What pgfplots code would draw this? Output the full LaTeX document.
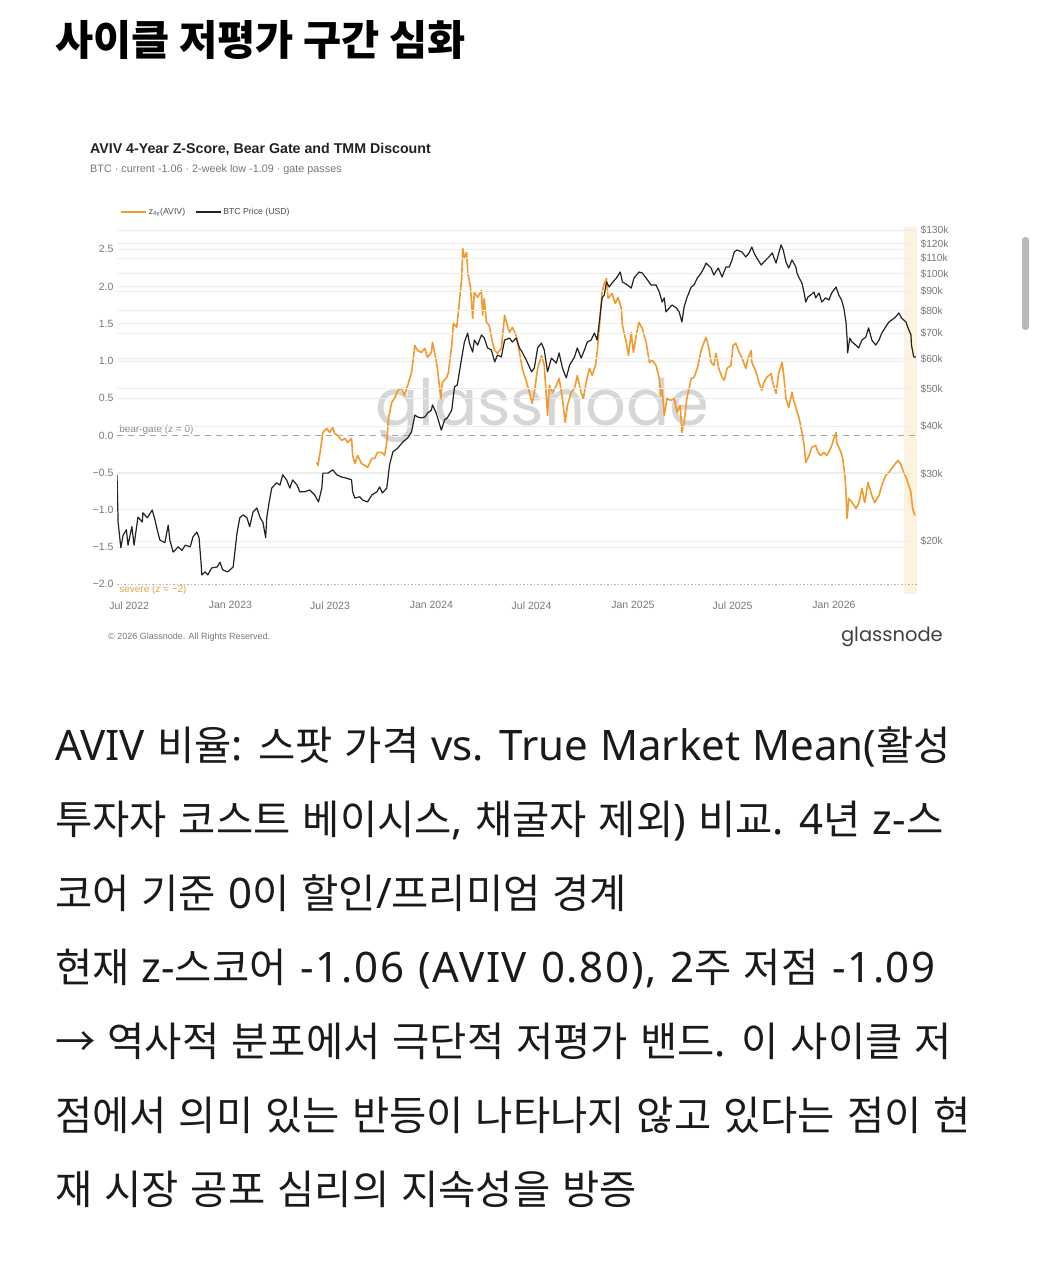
\documentclass[border=0pt]{standalone}
\usepackage{fontspec}
\usepackage{pgfplots}
\pgfplotsset{compat=1.18}
\setmainfont{Liberation Sans}
\newfontfamily\krf{Noto Sans CJK KR}
\newfontfamily\krtitle{Noto Sans CJK KR}
\newfontfamily\laf{Noto Sans}[WordSpace=1.1]
\newfontfamily\ldf{Noto Sans}[WordSpace=1.1,LetterSpace=4]
\newfontfamily\popf{Poppins}
\definecolor{zorange}{HTML}{F29A2E}
\definecolor{btcc}{HTML}{222222}
\definecolor{gridc}{HTML}{EDEDED}
\definecolor{tickc}{HTML}{777777}
\definecolor{bandc}{HTML}{FDF1E0}
\definecolor{sevc}{HTML}{E0A050}
\definecolor{bodyc}{HTML}{1A1A1A}
\newcommand\KO[1]{{\krf\fontsize{40.5}{44}\selectfont #1}}
\newcommand\LA[1]{{\laf\fontsize{42}{44}\selectfont #1}}
\newcommand\LD[1]{{\ldf\fontsize{42}{44}\selectfont #1}}

\begin{document}
\begin{tikzpicture}
\begin{scope}[x=1pt,y=-1pt]
\path (0,0) rectangle (1038,1280);
\node[anchor=base west, inner sep=0pt, text=black] at (55,55) {\krtitle\bfseries\fontsize{41.5}{44}\selectfont 사이클 저평가 구간 심화};
\fill[gray!55, rounded corners=3pt] (1022,237) rectangle (1029,330);
% chart header
\node[anchor=base west, inner sep=0pt, text=btcc] at (90,153) {\bfseries\fontsize{14.2}{16}\selectfont AVIV 4-Year Z-Score, Bear Gate and TMM Discount};
\node[anchor=base west, inner sep=0pt, text=tickc] at (90,172) {\fontsize{10.8}{12}\selectfont BTC · current -1.06 · 2-week low -1.09 · gate passes};
\node[anchor=base west, inner sep=0pt, text=tickc] at (108,639) {\fontsize{9}{10}\selectfont © 2026 Glassnode. All Rights Reserved.};
\node[anchor=base east, inner sep=0pt, text=black!75] at (943,641) {\popf\fontsize{19.5}{21}\selectfont glassnode};
\node[anchor=base, inner sep=0pt, text=black!16] at (542,425) {\popf\fontsize{64}{66}\selectfont glassnode};
% body text
\begin{scope}[every node/.style={anchor=base west, inner sep=0pt, text=bodyc}]
\node at (55,760) {\LA{AVIV }\KO{비율}\LA{: }\KO{스팟}\LA{ }\KO{가격}\LA{ vs. True Market Mean(}\KO{활성}};
\node at (55,834) {\KO{투자자}\LA{ }\KO{코스트}\LA{ }\KO{베이시스}\LA{, }\KO{채굴자}\LA{ }\KO{제외}\LA{) }\KO{비교}\LA{. 4}\KO{년}\LA{ z-}\KO{스}};
\node at (55,908) {\KO{코어}\LA{ }\KO{기준}\LA{ 0}\KO{이}\LA{ }\KO{할인}\LA{/}\KO{프리미엄}\LA{ }\KO{경계}};
\node at (55,982) {\KO{현재}\LA{ z-}\KO{스코어}\LD{ -1.06 (AVIV 0.80), 2}\KO{주}\LA{ }\KO{저점}\LD{ -1.09}};
\node at (55,1056) {\KO{→}\LA{ }\KO{역사적}\LA{ }\KO{분포에서}\LA{ }\KO{극단적}\LA{ }\KO{저평가}\LA{ }\KO{밴드}\LA{. }\KO{이}\LA{ }\KO{사이클}\LA{ }\KO{저}};
\node at (55,1130) {\KO{점에서}\LA{ }\KO{의미}\LA{ }\KO{있는}\LA{ }\KO{반등이}\LA{ }\KO{나타나지}\LA{ }\KO{않고}\LA{ }\KO{있다는}\LA{ }\KO{점이}\LA{ }\KO{현}};
\node at (55,1204) {\KO{재}\LA{ }\KO{시장}\LA{ }\KO{공포}\LA{ }\KO{심리의}\LA{ }\KO{지속성을}\LA{ }\KO{방증}};
\end{scope}
\end{scope}

% ---------- z-score axis ----------
\begin{axis}[
  at={(117pt,-594pt)}, anchor=south west,
  scale only axis, width=800pt, height=367pt,
  xmin=-22, xmax=1431, ymin=-2.13, ymax=2.80,
  clip=false,
  axis line style={draw=none}, major tick length=0pt,
  xtick={0,184,365,549,731,915,1096,1280},
  xticklabels={Jul 2022,Jan 2023,Jul 2023,Jan 2024,Jul 2024,Jan 2025,Jul 2025,Jan 2026},
  ytick={-1.5,-1,-0.5,0.5,1,1.5,2,2.5},
  yticklabels={−1.5,−1.0,−0.5,0.5,1.0,1.5,2.0,2.5},
  extra y ticks={-2,0}, extra y tick labels={−2.0,0.0},
  extra y tick style={grid=none},
  ymajorgrids, grid style={draw=gridc, line width=0.8pt},
  tick label style={font=\fontsize{10.5}{11}\selectfont, text=tickc},
  xticklabel style={yshift=-4pt},
]
\addplot[fill=bandc, draw=none] coordinates {(1407,-2.13) (1431,-2.13) (1431,2.80) (1407,2.80)} -- cycle;
\addplot[draw=black!35, line width=0.9pt, dash pattern=on 6pt off 5pt] coordinates {(-22,0) (1431,0)};
\addplot[draw=black!30, line width=0.9pt, dash pattern=on 1.5pt off 2pt] coordinates {(-22,-2) (1431,-2)};
\node[anchor=south west, inner sep=1pt, text=black!45, font=\fontsize{10}{11}\selectfont] at (axis cs:-20,0) {bear-gate (z = 0)};
\node[anchor=north west, inner sep=1pt, text=sevc, font=\fontsize{10}{11}\selectfont] at (axis cs:-20,-2) {severe (z = −2)};
\addplot[zorange, line width=1.6pt, line join=round] table {
341 -0.363
343 -0.403
346 -0.269
352 0.040
359 0.094
364 0.040
370 0.108
373 0.027
379 0.000
386 -0.067
392 -0.040
397 -0.094
404 -0.040
406 -0.269
410 -0.376
415 -0.269
422 -0.376
428 -0.403
433 -0.430
441 -0.309
446 -0.309
451 -0.228
459 -0.228
464 -0.269
468 -0.094
471 0.228
477 0.444
482 0.497
488 0.605
495 0.632
500 0.538
506 0.672
513 0.847
519 1.210
524 1.142
531 1.116
537 1.169
542 1.048
549 1.116
551 1.250
557 1.035
560 0.901
566 0.497
569 0.712
577 0.780
580 0.847
586 1.210
589 1.505
595 1.452
598 1.653
604 2.110
606 2.513
609 2.379
613 2.460
615 2.191
620 1.989
624 1.573
627 1.922
633 1.855
640 1.949
642 1.613
645 1.841
649 1.519
654 1.478
660 1.250
664 1.142
669 1.102
676 1.169
682 1.613
687 1.478
691 1.384
696 1.452
703 1.344
709 1.116
714 0.901
722 0.712
727 0.578
732 0.430
736 0.578
742 0.901
749 1.075
754 0.941
760 0.269
763 0.672
769 0.578
776 0.672
781 0.766
787 0.497
792 0.175
796 0.403
803 0.578
809 0.632
814 0.806
821 0.578
825 0.497
830 0.712
836 0.901
841 0.806
847 0.941
850 1.116
854 1.438
859 1.922
863 2.043
867 2.110
870 1.841
877 1.909
883 1.774
888 1.855
894 1.707
896 1.478
903 1.250
907 1.075
912 1.384
916 1.116
921 1.344
926 1.519
932 1.438
939 1.250
945 0.981
950 1.008
957 0.941
963 0.766
966 0.538
968 0.632
972 0.269
977 0.497
984 0.470
990 0.497
995 0.309
1001 0.403
1004 0.040
1008 0.175
1013 0.497
1021 0.766
1026 0.780
1032 0.901
1039 1.142
1044 1.250
1048 1.317
1053 1.169
1057 0.981
1062 0.941
1066 1.102
1071 0.901
1077 0.780
1081 0.739
1086 0.901
1093 0.941
1097 1.210
1102 1.237
1108 1.116
1113 1.048
1120 0.901
1124 1.035
1130 1.142
1131 0.981
1139 0.847
1144 0.712
1149 0.605
1153 0.712
1158 0.780
1166 0.833
1169 0.712
1175 0.565
1180 0.847
1186 0.981
1189 0.806
1193 0.497
1198 0.376
1204 0.578
1207 0.470
1211 0.376
1217 0.228
1222 0.040
1226 -0.134
1229 -0.363
1235 -0.269
1240 -0.161
1247 -0.134
1251 -0.228
1256 -0.269
1262 -0.228
1267 -0.269
1275 -0.161
1280 -0.040
1284 0.040
1285 -0.094
1293 -0.228
1296 -0.309
1300 -0.538
1302 -0.766
1304 -1.116
1307 -0.847
1313 -0.901
1320 -0.981
1325 -0.914
1331 -0.712
1336 -0.901
1342 -0.632
1349 -0.806
1354 -0.901
1362 -0.806
1367 -0.672
1374 -0.538
1380 -0.497
1385 -0.444
1392 -0.376
1396 -0.336
1401 -0.376
1407 -0.497
1412 -0.578
1420 -0.766
1423 -0.981
1427 -1.075
};
\end{axis}

% ---------- BTC price axis ----------
\begin{axis}[
  at={(117pt,-594pt)}, anchor=south west,
  scale only axis, width=800pt, height=367pt,
  xmin=-22, xmax=1431, ymode=log, ymin=14.53, ymax=132.6,
  axis line style={draw=none}, major tick length=0pt,
  xtick=\empty, yticklabel pos=right,
  ytick={20,30,40,50,60,70,80,90,100,110,120,130},
  yticklabels={\$20k,\$30k,\$40k,\$50k,\$60k,\$70k,\$80k,\$90k,\$100k,\$110k,\$120k,\$130k},
  ymajorgrids, grid style={draw=gridc, line width=0.8pt},
  tick label style={font=\fontsize{10.3}{11}\selectfont, text=tickc},
  legend style={at={(0.004,1.041)}, anchor=west, draw=none, fill=none, inner sep=0pt,
    font=\fontsize{8.7}{9}\selectfont, text=black!70, legend columns=2,
    /tikz/every even column/.append style={column sep=8pt}},
  legend image code/.code={\draw[#1] (0pt,0pt) -- (25pt,0pt);},
]
\addlegendimage{zorange, line width=1.5pt}
\addlegendentry{z\textsubscript{4y}(AVIV)}
\addplot[btcc, line width=1.2pt, line join=round] table {
-22 29.8
-20 22.4
-15 19.2
-11 20.7
-5 21.4
-2 19.5
5 21.8
9 19.5
16 23.1
24 22.4
25 23.7
33 23.0
42 24.1
47 22.7
51 21.4
56 20.1
65 19.8
71 22.0
74 20.1
80 18.7
89 19.3
96 18.9
102 19.5
111 19.3
116 20.5
123 21.1
127 20.4
131 17.3
132 16.3
138 16.6
143 16.3
150 17.0
160 17.1
165 17.6
170 16.8
179 16.6
189 17.1
192 18.7
196 21.0
201 23.0
207 23.4
214 23.0
219 21.8
225 23.8
232 24.4
238 23.0
243 22.4
248 20.4
250 23.0
254 25.1
259 27.5
268 28.4
274 28.0
279 29.8
286 28.9
292 27.5
297 28.9
305 28.0
310 26.9
319 26.9
328 27.2
337 26.4
344 25.3
350 27.5
352 30.1
361 30.1
370 30.7
377 29.8
386 29.4
395 29.2
404 28.9
406 26.9
410 25.9
419 26.1
424 25.6
433 25.3
441 26.4
450 26.9
455 27.7
460 26.7
468 27.5
473 31.6
479 34.2
488 35.0
497 36.3
506 37.2
513 38.6
519 42.7
524 42.2
531 42.0
537 42.2
542 43.2
549 44.0
551 45.4
557 43.5
560 42.2
567 39.0
573 41.5
578 42.0
586 44.0
591 50.6
596 51.2
604 60.2
609 66.3
615 70.0
618 65.9
624 62.4
627 67.1
633 65.1
640 69.2
645 67.9
651 64.0
658 63.2
664 58.8
669 61.3
676 60.6
682 67.1
691 67.9
696 66.3
703 67.9
709 64.0
714 62.4
723 58.8
731 55.4
736 56.7
742 64.0
749 65.9
754 63.2
760 55.4
767 60.2
776 58.4
781 62.1
787 56.7
794 53.4
800 57.7
809 60.6
814 64.0
821 60.2
827 63.2
832 66.3
839 67.1
845 70.0
850 67.1
854 74.8
859 86.5
863 88.0
867 95.2
872 92.4
877 94.6
885 97.5
892 101.1
896 95.2
905 93.5
912 91.8
917 97.5
926 101.1
932 100.5
939 97.5
948 93.5
957 93.5
963 89.6
968 84.4
972 86.5
975 79.5
981 81.4
986 82.9
994 81.4
999 79.5
1004 74.8
1008 81.9
1013 86.5
1021 92.4
1026 93.5
1032 97.5
1039 100.5
1044 103.6
1048 106.7
1057 103.6
1062 99.3
1070 103.6
1077 98.1
1084 104.2
1090 104.2
1095 108.7
1099 114.1
1104 115.4
1113 114.1
1120 110.7
1126 113.4
1131 117.5
1135 113.4
1140 110.0
1148 105.5
1153 107.4
1162 110.7
1168 113.4
1175 106.7
1180 113.4
1184 119.0
1188 115.4
1193 107.4
1198 103.6
1204 108.7
1211 104.2
1213 100.5
1217 97.5
1222 94.6
1226 89.1
1229 84.4
1233 87.0
1238 88.0
1244 89.6
1247 86.5
1253 89.1
1258 84.4
1265 86.5
1271 85.4
1276 89.1
1284 92.4
1289 88.0
1294 85.4
1298 81.4
1302 74.8
1304 67.9
1305 62.1
1309 67.9
1313 66.3
1320 65.1
1325 64.0
1331 67.1
1338 68.3
1343 72.2
1349 67.1
1356 65.1
1362 67.1
1367 70.0
1374 72.6
1380 74.8
1385 75.7
1392 77.1
1398 79.0
1403 76.6
1411 74.8
1414 72.6
1420 69.2
1421 65.1
1425 60.6
1429 60.6
};
\addlegendentry{BTC Price (USD)}
\end{axis}
\end{tikzpicture}
\end{document}
